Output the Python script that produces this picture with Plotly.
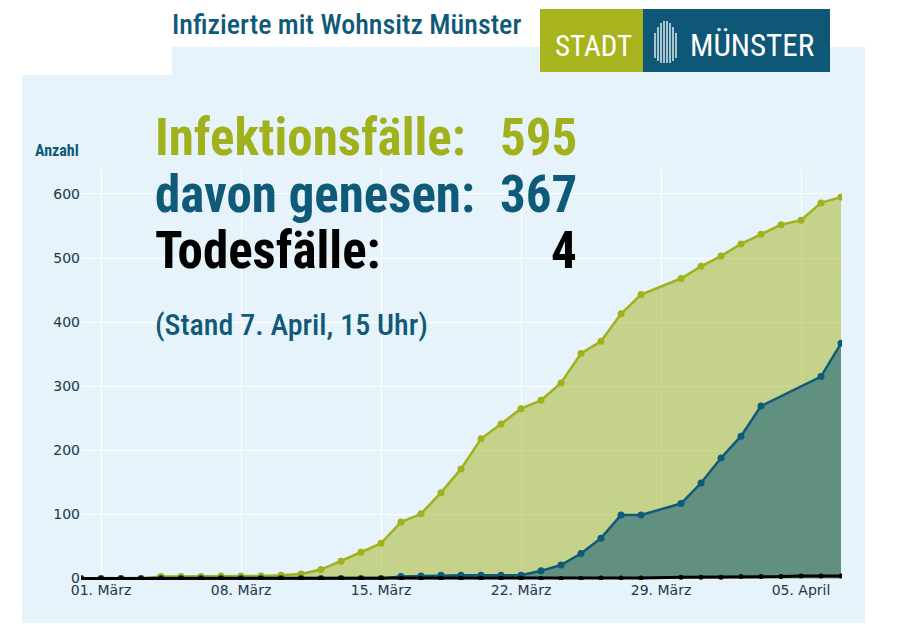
import plotly.graph_objects as go

# Infizierte / Genesene / Todesfälle, Münster (Stand 7. April 2020)
dates_inf = ["2020-02-29",
             "2020-03-01", "2020-03-02", "2020-03-03", "2020-03-04", "2020-03-05",
             "2020-03-06", "2020-03-07", "2020-03-08", "2020-03-09", "2020-03-10",
             "2020-03-11", "2020-03-12", "2020-03-13", "2020-03-14", "2020-03-15",
             "2020-03-16", "2020-03-17", "2020-03-18", "2020-03-19", "2020-03-20",
             "2020-03-21", "2020-03-22", "2020-03-23", "2020-03-24", "2020-03-25",
             "2020-03-26", "2020-03-27", "2020-03-28", "2020-03-30", "2020-03-31",
             "2020-04-01", "2020-04-02", "2020-04-03", "2020-04-04", "2020-04-05",
             "2020-04-06", "2020-04-07"]
infected = [0,
            0, 0, 0, 3, 3,
            3, 4, 4, 4, 5,
            7, 14, 27, 41, 55,
            88, 101, 134, 171, 218,
            241, 265, 278, 305, 351,
            370, 413, 443, 468, 487,
            503, 522, 537, 552, 559,
            586, 595]
deaths = [0,
          0, 0, 0, 0, 0,
          0, 0, 0, 0, 0,
          0, 0, 0, 0, 0,
          0, 0, 0, 0, 0,
          0, 0, 0, 0, 0,
          1, 1, 1, 2, 2,
          2, 3, 3, 3, 4,
          4, 4]

dates_rec = ["2020-02-29",
             "2020-03-01", "2020-03-02", "2020-03-03", "2020-03-04", "2020-03-05",
             "2020-03-06", "2020-03-07", "2020-03-08", "2020-03-09", "2020-03-10",
             "2020-03-11", "2020-03-12", "2020-03-13", "2020-03-14", "2020-03-15",
             "2020-03-16", "2020-03-17", "2020-03-18", "2020-03-19", "2020-03-20",
             "2020-03-21", "2020-03-22", "2020-03-23", "2020-03-24", "2020-03-25",
             "2020-03-26", "2020-03-27", "2020-03-28", "2020-03-30", "2020-03-31",
             "2020-04-01", "2020-04-02", "2020-04-03", "2020-04-06", "2020-04-07"]
recovered = [0,
             0, 0, 0, 0, 0,
             0, 0, 0, 0, 0,
             0, 0, 0, 0, 0,
             3, 4, 5, 5, 5,
             5, 5, 12, 21, 39,
             63, 99, 99, 117, 149,
             188, 222, 269, 315, 367]

tick_vals = ["2020-03-01", "2020-03-08", "2020-03-15", "2020-03-22", "2020-03-29", "2020-04-05"]
tick_text = ["01. März", "08. März", "15. März", "22. März", "29. März", "05. April"]

OLIVE = "#a1b11b"
TEAL = "#0f5a78"
BG = "#e6f3fb"
HEAD = "Roboto Condensed, Roboto, sans-serif"

# plot area in pixels: x 81..842, y 170..580
L, R, T, B = 81, 842, 170, 580


def px(x):
    return (x - L) / (R - L)


def py(y):
    return (B - y) / (B - T)


fig = go.Figure()
fig.add_trace(go.Scatter(x=dates_inf, y=infected, mode="lines+markers", fill="tozeroy",
                         fillcolor="rgba(163,178,27,0.5)",
                         line=dict(color=OLIVE, width=2.5), marker=dict(color=OLIVE, size=7)))
fig.add_trace(go.Scatter(x=dates_rec, y=recovered, mode="lines+markers", fill="tozeroy",
                         fillcolor="rgba(15,90,120,0.55)",
                         line=dict(color=TEAL, width=2.5), marker=dict(color=TEAL, size=7)))
fig.add_trace(go.Scatter(x=dates_inf, y=deaths, mode="lines+markers",
                         line=dict(color="black", width=3), marker=dict(color="black", size=5)))

shapes = [
    dict(type="rect", xref="paper", yref="paper", x0=px(22), x1=px(865), y0=py(623), y1=py(75),
         fillcolor=BG, line_width=0, layer="below"),
    dict(type="rect", xref="paper", yref="paper", x0=px(172), x1=px(865), y0=py(76), y1=py(47),
         fillcolor=BG, line_width=0, layer="below"),
    dict(type="rect", xref="paper", yref="paper", x0=px(540), x1=px(643), y0=py(72), y1=py(9),
         fillcolor="#a8b41d", line_width=0),
    dict(type="rect", xref="paper", yref="paper", x0=px(643), x1=px(830), y0=py(72), y1=py(9),
         fillcolor="#0e5777", line_width=0),
]
# stylised building icon in the logo
icon_x = [655, 658, 661, 664, 667, 670, 673, 676]
icon_top = [33, 27, 23, 21, 21, 23, 27, 33]
icon_bot = [58, 61, 63, 63, 63, 63, 61, 58]
for ix, it, ib in zip(icon_x, icon_top, icon_bot):
    shapes.append(dict(type="line", xref="paper", yref="paper", x0=px(ix), x1=px(ix),
                       y0=py(ib), y1=py(it), line=dict(color="white", width=1.3)))


def note(text, x, y, size, color, anchor="left", weight=400):
    return dict(text=text, xref="paper", yref="paper", x=px(x), y=py(y),
                xanchor=anchor, yanchor="middle", showarrow=False,
                font=dict(family=HEAD, size=size, color=color, weight=weight))


annotations = [
    note("Infizierte mit Wohnsitz Münster", 170, 25, 28, TEAL, weight=500),
    note("STADT", 593, 46, 29, "white", "center"),
    note("MÜNSTER", 752, 46, 31, "white", "center"),
    note("Anzahl", 57, 151, 16, TEAL, "center", 700),
    note("Infektionsfälle:", 153, 138, 51, OLIVE, weight=700),
    note("595", 579, 138, 51, OLIVE, "right", 700),
    note("davon genesen:", 153, 194, 51, TEAL, weight=700),
    note("367", 579, 194, 51, TEAL, "right", 700),
    note("Todesfälle:", 153, 250, 51, "black", weight=700),
    note("4", 579, 250, 51, "black", "right", 700),
    note("(Stand 7. April, 15 Uhr)", 153, 324, 30, TEAL, weight=500),
]

fig.update_layout(
    width=900, height=636,
    margin=dict(l=L, r=900 - R, t=T, b=636 - B),
    paper_bgcolor="white", plot_bgcolor=BG,
    showlegend=False,
    shapes=shapes, annotations=annotations,
    font=dict(family="DejaVu Sans", size=14, color="#25364a"),
)
fig.update_xaxes(range=["2020-02-29", "2020-04-07 01:12"], tickvals=tick_vals, ticktext=tick_text,
                 showgrid=True, gridcolor="white", gridwidth=1, zeroline=False, showline=False)
fig.update_yaxes(range=[-2.3, 637.3], tickvals=[0, 100, 200, 300, 400, 500, 600],
                 showgrid=True, gridcolor="white", gridwidth=1, zeroline=False, showline=False)

# page body has a default 8px margin; remove it so the figure sits at the top-left corner
fig.write_html("out.html", config={"displayModeBar": False},
               post_script="document.body.style.margin='0';")
